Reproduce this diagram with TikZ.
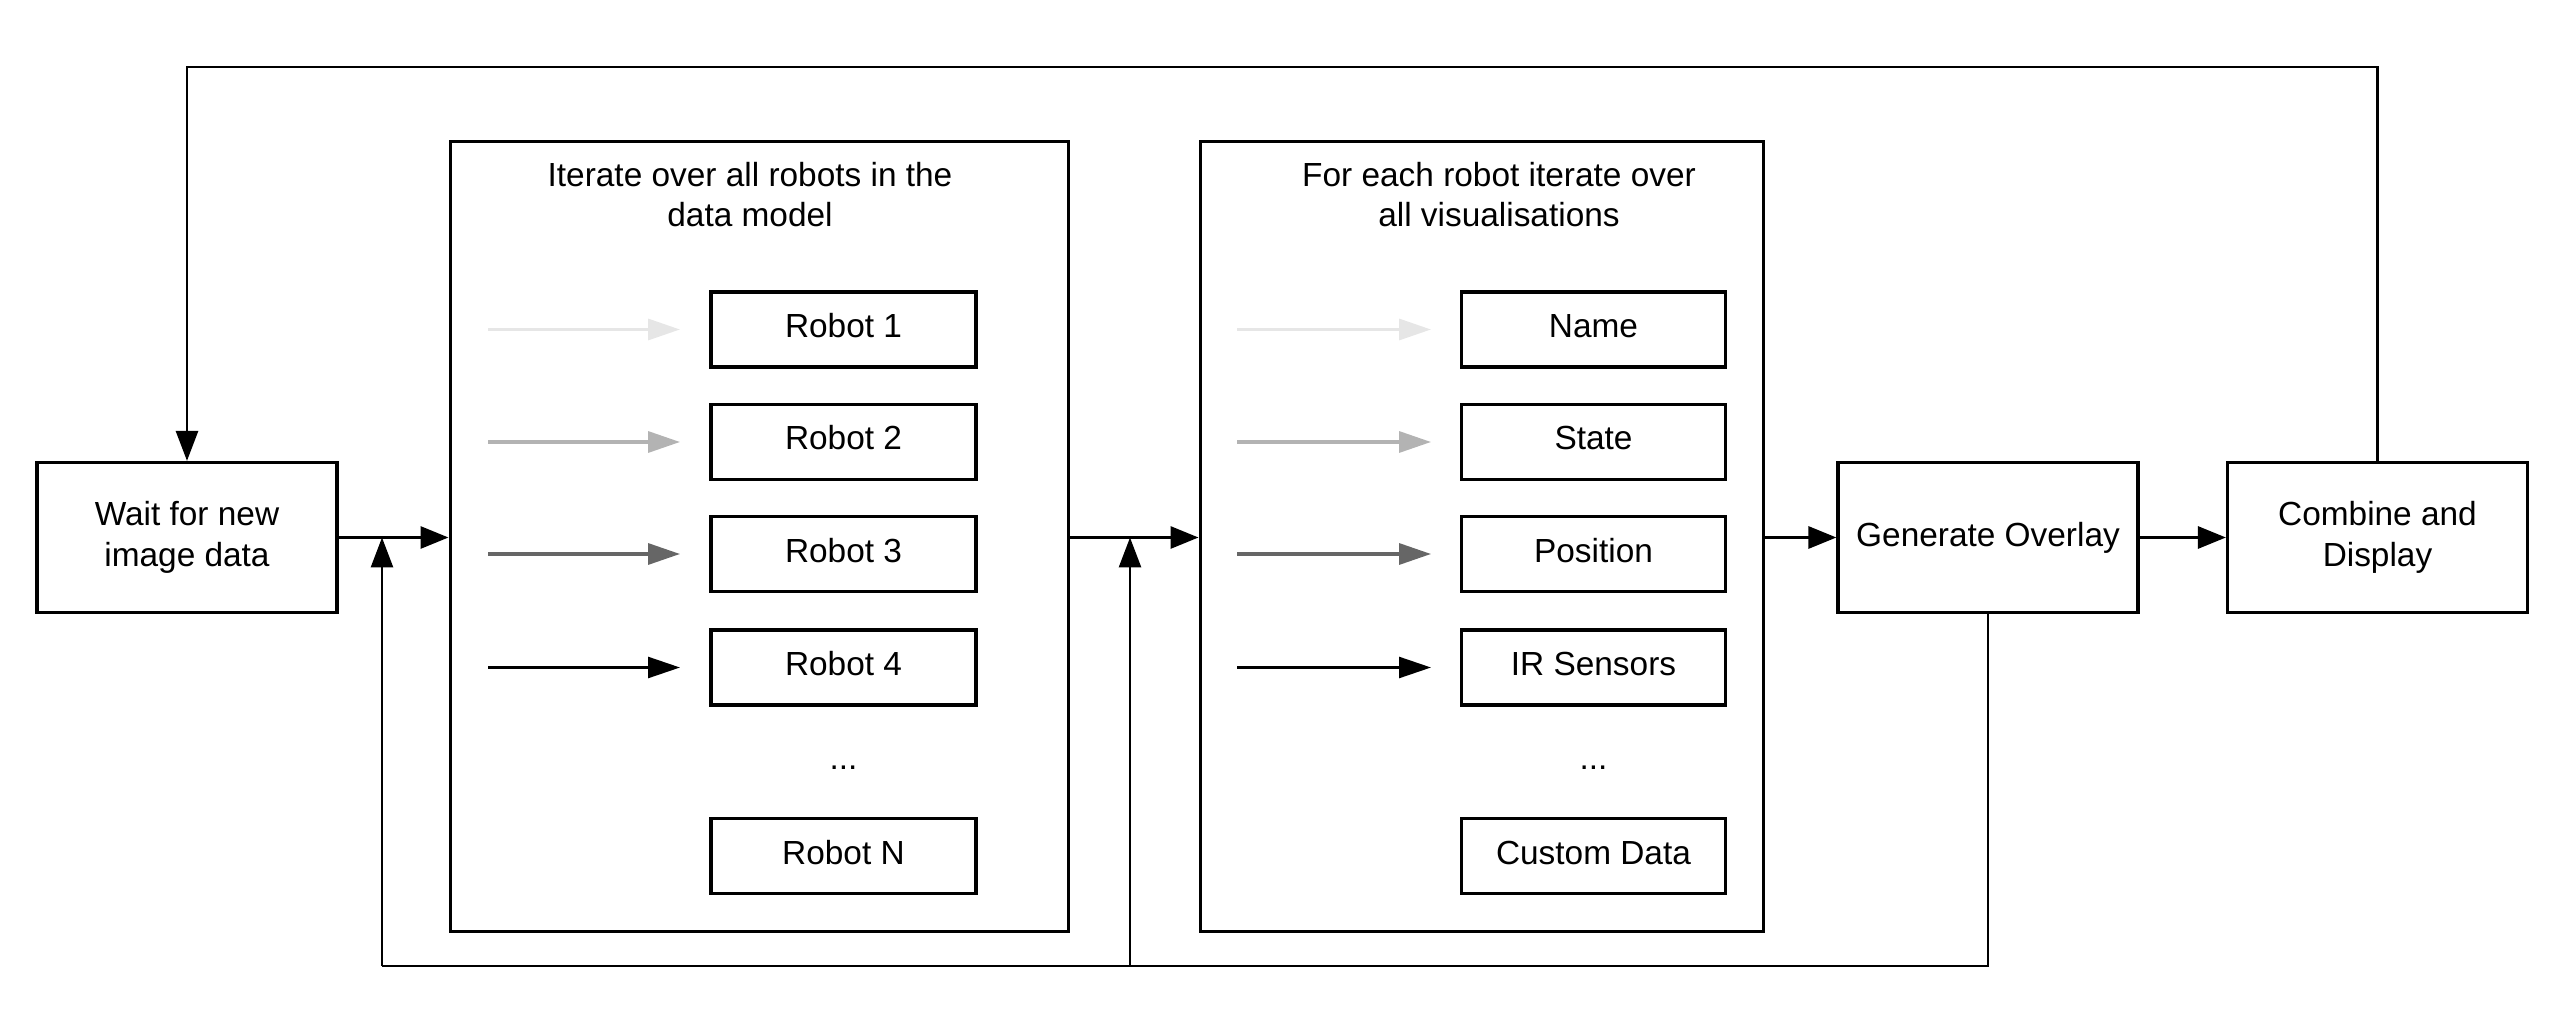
\documentclass[tikz,border=0pt]{standalone}
\usepackage{fontspec}
\setmainfont{Liberation Sans}
\usetikzlibrary{arrows.meta}
\definecolor{gA}{HTML}{E6E6E6}
\definecolor{gB}{HTML}{B3B3B3}
\definecolor{gC}{HTML}{666666}
\begin{document}
\begin{tikzpicture}[x=0.5pt,y=-0.5pt,
  font=\fontsize{16.7}{20.3}\selectfont,
  bigbox/.style={draw,line width=1.6pt,minimum width=150pt,minimum height=75pt,align=center,inner sep=0pt},
  frame/.style={draw,line width=1.5pt,minimum height=394.5pt,inner sep=0pt},
  itembox/.style={draw,line width=1.75pt,minimum width=132.5pt,minimum height=37.5pt,inner sep=0pt,text height=12pt,text depth=4pt},
  title/.style={align=center,inner sep=0pt},
  flow/.style={line width=1.5pt,-{Triangle[length=14pt,width=11pt]}},
  loop/.style={line width=1.4pt},
  looparrow/.style={line width=1.4pt,-{Triangle[length=15pt,width=11pt]}},
  mini/.style={line width=1.7pt,-{Triangle[length=16pt,width=10.5pt]}}
]
\useasboundingbox (0,0) rectangle (2550,1026);

% main boxes
\node[bigbox] (wait) at (187,537.5) {Wait for new\\image data};
\node[frame,minimum width=309pt] (box1) at (759,536.5) {};
\node[frame,minimum width=281.5pt] (box2) at (1481.5,536.5) {};
\node[bigbox] (gen) at (1988,537.5) {Generate Overlay};
\node[bigbox] (comb) at (2377.5,537.5) {Combine and\\Display};

% titles
\node[title] (t1) at (750,194.5) {Iterate over all robots in the\\data model};
\node[title] (t2) at (1499,194.5) {For each robot iterate over\\all visualisations};

% robot items
\node[itembox] (r1) at (843.5,329.5) {Robot 1};
\node[itembox] (r2) at (843.5,442) {Robot 2};
\node[itembox] (r3) at (843.5,554) {Robot 3};
\node[itembox] (r4) at (843.5,667.5) {Robot 4};
\node (rd) at (843.5,768) {...};
\node[itembox] (rn) at (843.5,856) {Robot N};

% visualisation items
\node[itembox,minimum width=132pt] (v1) at (1593.5,329.5) {Name};
\node[itembox,minimum width=132pt] (v2) at (1593.5,442) {State};
\node[itembox,minimum width=132pt] (v3) at (1593.5,554) {Position};
\node[itembox,minimum width=132pt] (v4) at (1593.5,667.5) {IR Sensors};
\node (vd) at (1593.5,768) {...};
\node[itembox,minimum width=132pt] (vn) at (1593.5,856) {Custom Data};

% small arrows in box 1
\coordinate (a1s) at (488,329.5); \coordinate (a1e) at (680,329.5);
\coordinate (a2s) at (488,442);   \coordinate (a2e) at (680,442);
\coordinate (a3s) at (488,554);   \coordinate (a3e) at (680,554);
\coordinate (a4s) at (488,667.5); \coordinate (a4e) at (680,667.5);
\draw[mini,gA] (a1s) -- (a1e);
\draw[mini,gB] (a2s) -- (a2e);
\draw[mini,gC] (a3s) -- (a3e);
\draw[mini,black,line width=1.3pt] (a4s) -- (a4e);

% small arrows in box 2
\coordinate (b1s) at (1237,329.5); \coordinate (b1e) at (1431,329.5);
\coordinate (b2s) at (1237,442);   \coordinate (b2e) at (1431,442);
\coordinate (b3s) at (1237,554);   \coordinate (b3e) at (1431,554);
\coordinate (b4s) at (1237,667.5); \coordinate (b4e) at (1431,667.5);
\draw[mini,gA] (b1s) -- (b1e);
\draw[mini,gB] (b2s) -- (b2e);
\draw[mini,gC] (b3s) -- (b3e);
\draw[mini,black,line width=1.3pt] (b4s) -- (b4e);

% main flow
\draw[flow] (wait.east) -- (wait.east -| box1.west);
\draw[flow] (box1.east |- wait.east) -- (box1.east |- wait.east -| box2.west);
\draw[flow] (box2.east |- gen.west) -- (gen.west);
\draw[flow] (gen.east) -- (comb.west);

% top feedback loop
\coordinate (top) at (0,67);
\draw[looparrow] (comb.north) -- (comb.north |- top) -- (wait.north |- top) -- (wait.north);

% bottom feedback loop
\coordinate (bot) at (0,966);
\coordinate (j1) at (382,537.5);
\coordinate (j2) at (1130,537.5);
\draw[loop] (gen.south) -- (gen.south |- bot) -- (j1 |- bot);
\draw[looparrow] (j1 |- bot) -- (j1);
\draw[looparrow] (j2 |- bot) -- (j2);
\end{tikzpicture}
\end{document}
